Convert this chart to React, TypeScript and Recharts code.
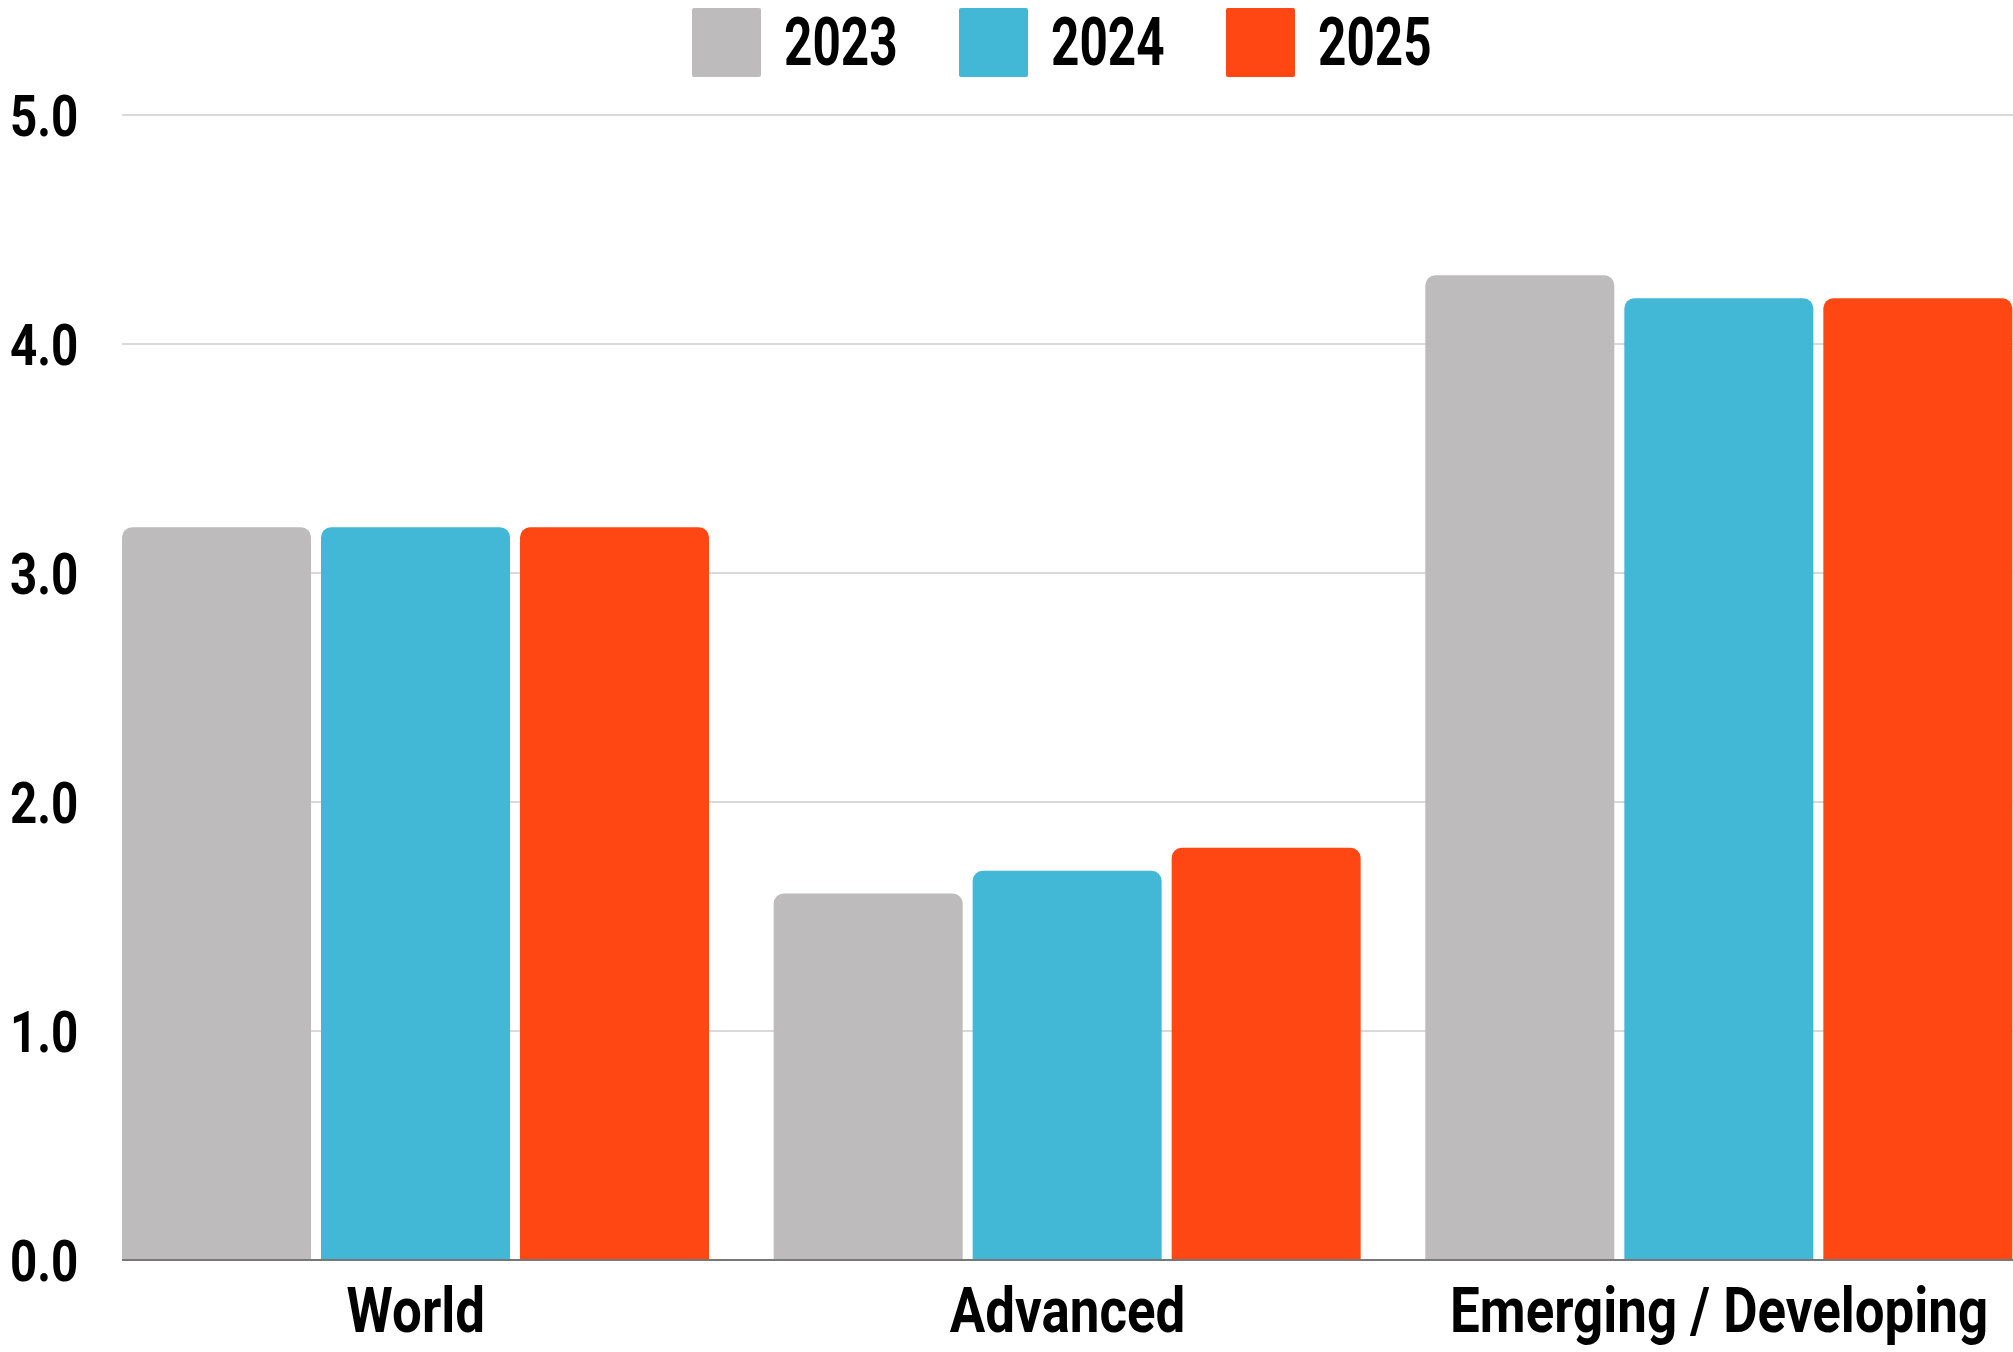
import React from "react";
import {
  BarChart,
  Bar,
  XAxis,
  YAxis,
  CartesianGrid,
  Legend,
} from "recharts";

const REGIONS = ["World", "Advanced", "Emerging / Developing"];
const GROWTH_2023 = [3.2, 1.6, 4.3];
const GROWTH_2024 = [3.2, 1.7, 4.2];
const GROWTH_2025 = [3.2, 1.8, 4.2];
const Y_TICKS = [0, 1, 2, 3, 4, 5];

const SERIES = [
  { key: "y2023", label: "2023", color: "#bdbbbb" },
  { key: "y2024", label: "2024", color: "#42b7d6" },
  { key: "y2025", label: "2025", color: "#ff4714" },
];

const data = REGIONS.map((region, i) => ({
  region,
  y2023: GROWTH_2023[i],
  y2024: GROWTH_2024[i],
  y2025: GROWTH_2025[i],
}));

// no condensed face installed, so Roboto Bold squeezed horizontally
const FONT = "Roboto, 'Liberation Sans', sans-serif";

// eslint-disable-next-line @typescript-eslint/no-explicit-any
function YTick({ y, payload }: any) {
  return (
    <text
      transform={`translate(10, ${y + 21}) scale(0.82, 1)`}
      textAnchor="start"
      fontFamily={FONT}
      fontWeight={700}
      fontSize={58}
      fill="#000"
    >
      {Number(payload.value).toFixed(1)}
    </text>
  );
}

// eslint-disable-next-line @typescript-eslint/no-explicit-any
function XTick({ x, y, payload }: any) {
  return (
    <text
      transform={`translate(${x}, ${y + 64}) scale(0.84, 1)`}
      textAnchor="middle"
      fontFamily={FONT}
      fontWeight={700}
      fontSize={63}
      fill="#000"
    >
      {payload.value}
    </text>
  );
}

function LegendContent() {
  return (
    <div
      style={{
        display: "flex",
        justifyContent: "center",
        alignItems: "center",
        height: 69,
        gap: 63,
      }}
    >
      {SERIES.map((s) => (
        <div key={s.key} style={{ display: "flex", alignItems: "center", gap: 23 }}>
          <div style={{ width: 69, height: 69, background: s.color, borderRadius: 2 }} />
          <div style={{ width: 112, height: 69, overflow: "visible", whiteSpace: "nowrap" }}>
            <span
              style={{
                display: "inline-block",
                fontFamily: FONT,
                fontWeight: 700,
                fontSize: 66,
                lineHeight: "69px",
                color: "#000",
                transform: "scaleX(0.75)",
                transformOrigin: "left center",
              }}
            >
              {s.label}
            </span>
          </div>
        </div>
      ))}
    </div>
  );
}

export default function App() {
  return (
    <div style={{ width: 2013, height: 1352, background: "#fff", overflow: "hidden" }}>
      <style>{"html,body{margin:0;padding:0;overflow:hidden;}"}</style>
      <BarChart
        width={2013}
        height={1352}
        data={data}
        margin={{ top: 46, right: 0, left: 0, bottom: 0 }}
        barGap={10}
        barCategoryGap={32}
      >
        <CartesianGrid vertical={false} stroke="#cccccc" strokeWidth={1.5} />
        <XAxis
          dataKey="region"
          tick={<XTick />}
          tickLine={false}
          axisLine={{ stroke: "#777", strokeWidth: 2 }}
          padding={{ left: -32, right: -32 }}
          height={92}
          interval={0}
        />
        <YAxis
          domain={[0, 5]}
          ticks={Y_TICKS}
          tick={<YTick />}
          tickLine={false}
          axisLine={false}
          width={122}
        />
        <Legend
          verticalAlign="top"
          content={<LegendContent />}
          wrapperStyle={{ top: 8, left: 109, width: 1904 }}
        />
        {SERIES.map((s) => (
          <Bar
            key={s.key}
            dataKey={s.key}
            name={s.label}
            fill={s.color}
            radius={[10, 10, 0, 0]}
            isAnimationActive={false}
          />
        ))}
      </BarChart>
    </div>
  );
}
